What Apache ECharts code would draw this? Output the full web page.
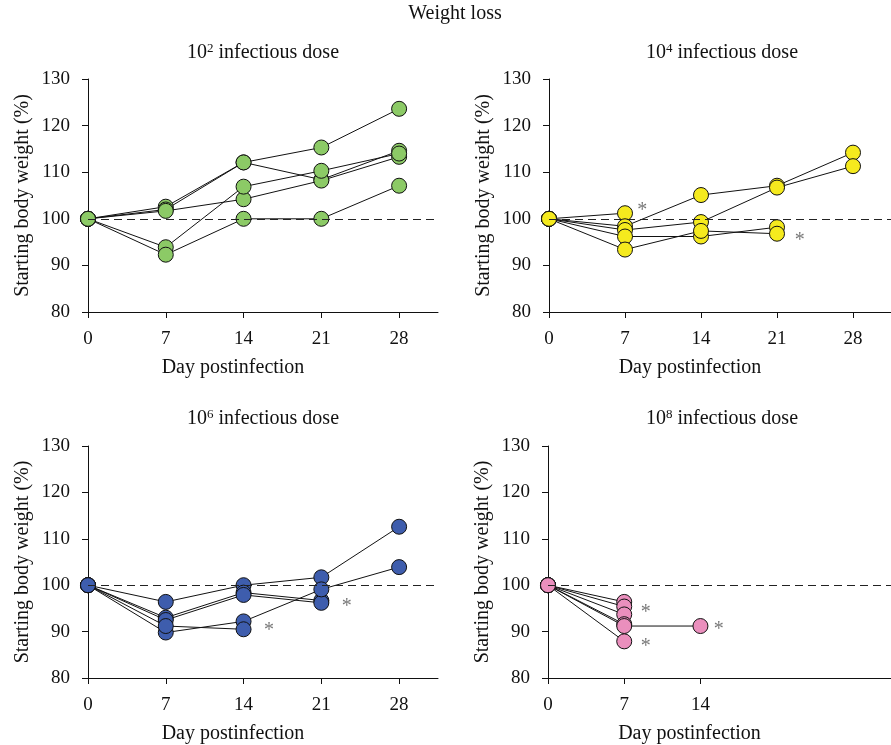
<!DOCTYPE html>
<html>
<head>
<meta charset="utf-8">
<script src="https://cdn.jsdelivr.net/npm/echarts@6/dist/echarts.min.js"></script>
<style>html,body{margin:0;padding:0;background:#fff;}#c{width:891px;height:745px;}</style>
</head>
<body>
<div id="c"></div>
<script>
// ---- data ----
const days = [0, 7, 14, 21, 28];
const yTicks = [80, 90, 100, 110, 120, 130];
const dose8Ticks = [0, 7, 14];
const mainTitle = 'Weight loss';
const panelExponents = ['2', '4', '6', '8'];
const panelColors = ['#8cca66', '#f5ea1e', '#3e5dad', '#ea8fbd'];
const xName = 'Day postinfection';
const yName = 'Starting body weight (%)';

// each row: one mouse, values per day (missing = stop)
const dose2 = [
  [100, 102.6, 112.1, 115.3, 123.6],
  [100, 102.0, 112.1, 108.4, 114.6],
  [100, 101.7, 104.2, 108.2, 113.3],
  [100, 93.9, 106.9, 110.3, 114.0],
  [100, 92.3, 100.0, 100.0, 107.1]
];
const dose4 = [
  [100, 101.2],
  [100, 98.4, 105.1, 107.1, 114.2],
  [100, 97.6, 99.3, 106.7, 111.3],
  [100, 96.2, 96.2, 98.2],
  [100, 93.4, 97.4, 96.8]
];
const dose6 = [
  [100, 96.4, 100.0, 101.7, 112.6],
  [100, 93.0, 98.4, 96.7],
  [100, 92.5, 97.9, 96.2],
  [100, 89.8, 92.2, 99.1, 103.9],
  [100, 91.2, 90.5]
];
const dose8 = [
  [100, 96.4],
  [100, 95.4],
  [100, 93.7],
  [100, 91.6],
  [100, 91.2, 91.2],
  [100, 87.9]
];
const panelData = [dose2, dose4, dose6, dose8];

// asterisk annotations [day, value]
const stars2 = [];
const stars4 = [[8.4, 102.6], [22.9, 96.2]];
const stars6 = [[16.1, 91.1], [23.1, 96.2]];
const stars8 = [[8.8, 95.0], [8.8, 87.7], [15.5, 91.2]];
const panelStars = [stars2, stars4, stars6, stars8];

// ---- layout ----
const FONT = 'Liberation Serif';
const grids = [
  {left: 88, top: 79, width: 350, height: 233},
  {left: 549, top: 79, width: 350, height: 233},
  {left: 88, top: 446, width: 350, height: 233},
  {left: 548, top: 446, width: 350, height: 233}
];
const subCenters = [[263, 42], [722, 42], [263, 408], [722, 408]];

const option = {
  animation: false,
  backgroundColor: '#fff',
  title: [{
    text: mainTitle, left: 455, top: 3, textAlign: 'center', padding: 0,
    textStyle: {fontFamily: FONT, fontSize: 20, fontWeight: 'normal', color: '#111', lineHeight: 22}
  }].concat(panelExponents.map((e, i) => ({
    text: '{b|10}{s|' + e + '}{b| infectious dose}',
    left: subCenters[i][0], top: subCenters[i][1], textAlign: 'center', padding: 0,
    textStyle: {
      fontFamily: FONT, fontSize: 20, fontWeight: 'normal', color: '#111',
      rich: {
        b: {fontFamily: FONT, fontSize: 20, lineHeight: 22, color: '#111'},
        s: {fontFamily: FONT, fontSize: 13, verticalAlign: 'top', color: '#111'}
      }
    }
  }))),
  grid: grids,
  xAxis: grids.map((g, i) => ({
    type: 'value', gridIndex: i, min: 0, max: 31.5, interval: 7,
    name: xName, nameLocation: 'middle', nameGap: 46,
    nameTextStyle: {fontFamily: FONT, fontSize: 20, color: '#111', padding: [0, 60, 0, 0]},
    axisLine: {show: true, onZero: false, lineStyle: {color: '#111', width: 1}},
    axisTick: Object.assign({show: true, length: 6, lineStyle: {color: '#111'}}, i === 3 ? {customValues: dose8Ticks} : {}),
    axisLabel: Object.assign({fontFamily: FONT, fontSize: 19, color: '#111', margin: 18},
      i === 3 ? {customValues: dose8Ticks} : {showMaxLabel: false}),
    splitLine: {show: false}
  })),
  yAxis: grids.map((g, i) => ({
    type: 'value', gridIndex: i, min: yTicks[0], max: yTicks[yTicks.length - 1], interval: 10,
    name: yName, nameLocation: 'middle', nameGap: 55,
    nameTextStyle: {fontFamily: FONT, fontSize: 20, color: '#111'},
    axisLine: {show: true, lineStyle: {color: '#111', width: 1}},
    axisTick: {show: true, length: 6, lineStyle: {color: '#111'}},
    axisLabel: {fontFamily: FONT, fontSize: 19, color: '#111', margin: 18},
    splitLine: {show: false}
  })),
  series: []
};

panelData.forEach((mice, p) => {
  mice.forEach((vals, m) => {
    const s = {
      type: 'line', xAxisIndex: p, yAxisIndex: p,
      data: vals.map((v, k) => [days[k], v]),
      symbol: 'circle', symbolSize: 15, showSymbol: true,
      lineStyle: {color: '#111', width: 1},
      itemStyle: {color: panelColors[p], borderColor: '#111', borderWidth: 1},
      emphasis: {disabled: true},
      z: 3
    };
    if (m === 0) {
      s.markLine = {
        silent: true, symbol: 'none', animation: false,
        label: {show: false},
        lineStyle: {color: '#222', width: 1, type: [8, 5]},
        data: [{yAxis: 100}]
      };
    }
    option.series.push(s);
  });
  if (panelStars[p].length) {
    option.series.push({
      type: 'scatter', xAxisIndex: p, yAxisIndex: p,
      data: panelStars[p], symbolSize: 1,
      itemStyle: {color: 'rgba(0,0,0,0)'},
      label: {show: true, formatter: '*', position: 'inside', offset: [2, 4],
        fontFamily: FONT, fontSize: 20, color: '#555'},
      emphasis: {disabled: true}, z: 4
    });
  }
});

const chart = echarts.init(document.getElementById('c'), null, {renderer: 'canvas'});
chart.setOption(option);
</script>
</body>
</html>
